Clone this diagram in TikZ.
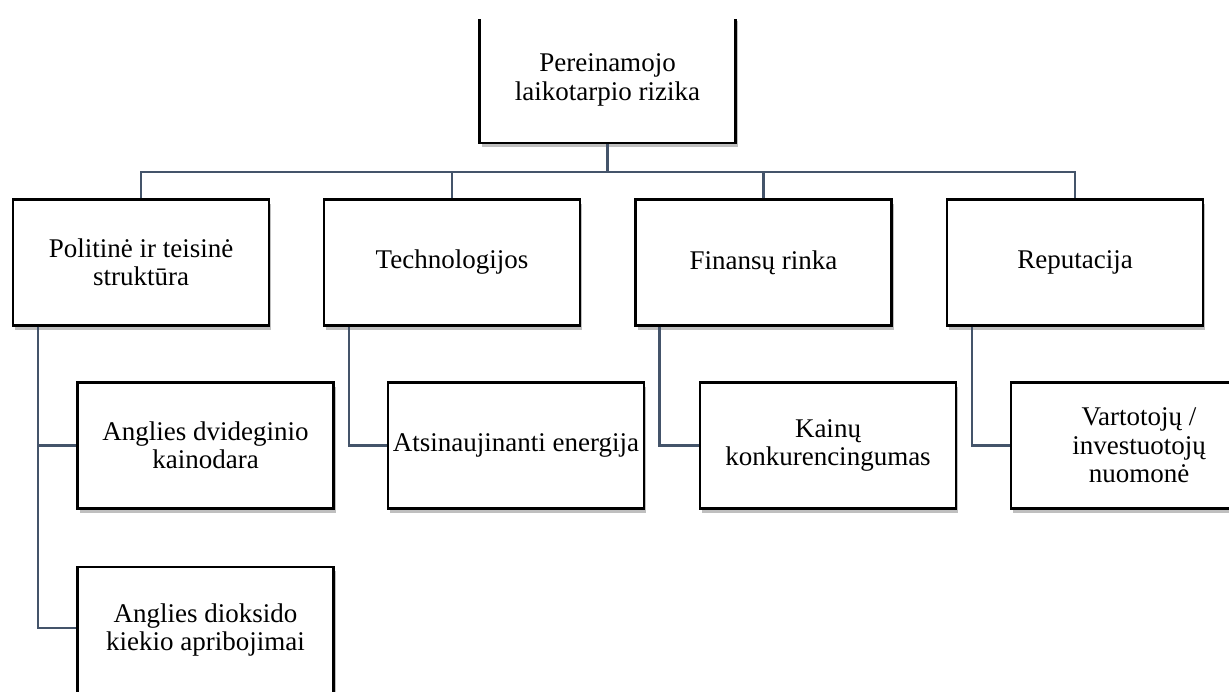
\documentclass[tikz,border=0pt]{standalone}
\usepackage{fontspec}
\setmainfont{Liberation Serif}
\usetikzlibrary{shadows}
\definecolor{connc}{HTML}{44546A}
\begin{document}
\begin{tikzpicture}[x=1pt,y=-1pt,
  box/.style={draw=black, line width=2.2pt, fill=white,
    minimum width=256pt, minimum height=126pt, inner sep=2pt,
    align=center, font=\fontsize{27}{28.5}\selectfont,
    drop shadow={shadow xshift=2pt, shadow yshift=-4pt, fill=black, opacity=0.25}},
  conn/.style={draw=connc, line width=2.6pt, line join=miter}]
\useasboundingbox (0,0) rectangle (1229,691);
\fill[white] (0,0) rectangle (1229,691);
\clip (0,19) rectangle (1229,691);

\node[box] (top) at (607.5,80) {Pereinamojo\\laikotarpio rizika};

\node[box] (b1) at (141,262.5) {Politinė ir teisinė\\struktūra};
\node[box] (b2) at (452,262.5) {Technologijos};
\node[box] (b3) at (763.5,262.5) {Finansų rinka};
\node[box] (b4) at (1075,262.5) {Reputacija};

\node[box] (a) at (205.5,445.5) {Anglies dvideginio\\kainodara};
\node[box] (bb) at (516,445.5) {Atsinaujinanti energija};
\node[box] (c) at (828,445.5) {Kainų\\konkurencingumas};
\node[box] (d) at (1139,445.5) {Vartotojų /\\investuotojų\\nuomonė};

\node[box] (e) at (205.5,630) {Anglies dioksido\\kiekio apribojimai};

\coordinate (barY) at (0,172);
\draw[conn] (top.south) -- (top.south |- barY);
\draw[conn] (b1.north) -- (b1.north |- barY) -- (b4.north |- barY) -- (b4.north);
\draw[conn] (b2.north) -- (b2.north |- barY);
\draw[conn] (b3.north) -- (b3.north |- barY);

\draw[conn] ([xshift=26pt]b1.south west) |- (a.west);
\draw[conn] ([xshift=26pt]b1.south west) |- ([yshift=2pt]e.west);
\draw[conn] ([xshift=26pt]b2.south west) |- (bb.west);
\draw[conn] ([xshift=25pt]b3.south west) |- (c.west);
\draw[conn] ([xshift=26pt]b4.south west) |- (d.west);
\end{tikzpicture}
\end{document}
